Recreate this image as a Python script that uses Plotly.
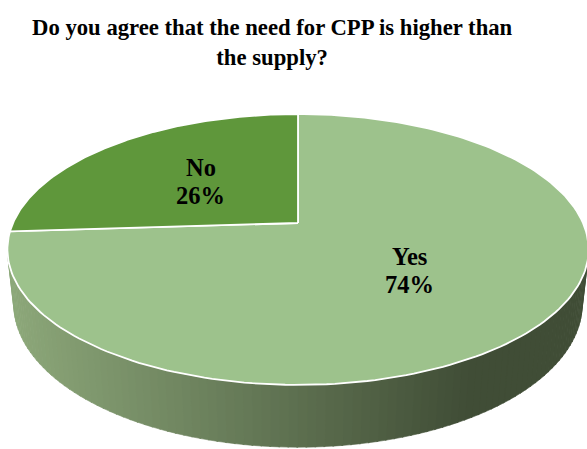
import numpy as np
import plotly.graph_objects as go

# ---- data ----
labels = ["Yes", "No"]
values = [74, 26]
top_colors = ["#9dc28c", "#5f973b"]
side_light = ["#8ca779", "#4f7d32"]
side_dark = ["#404d36", "#2f4a1f"]
title_text = "Do you agree that the need for CPP is higher than<br>the supply?"

# ---- 3D pie projection parameters ----
CX, CY = 298.0, 223.0
S = 285.0
SIN_E = 0.457
COS_E = float(np.sqrt(1 - SIN_E ** 2))
D = 4.55
H = 0.217
FONT = "Liberation Serif"


def project(X, Y, Z):
    X = np.asarray(X, float); Y = np.asarray(Y, float); Z = np.asarray(Z, float)
    v = Y * COS_E + Z * SIN_E
    up = -Y * SIN_E + Z * COS_E
    k = D / (D - v)
    return CX + S * X * k, CY - S * up * k


def hex2rgb(h):
    h = h.lstrip("#")
    return np.array([int(h[i:i + 2], 16) for i in (0, 2, 4)], float)


def mix(a, b, t):
    c = hex2rgb(a) * (1 - t) + hex2rgb(b) * t
    return "rgb(%d,%d,%d)" % tuple(np.round(c))


total = float(sum(values))
fracs = [v / total for v in values]
starts = np.cumsum([0] + fracs[:-1]) * 2 * np.pi
ends = np.cumsum(fracs) * 2 * np.pi

fig = go.Figure()

NSEG = 240
edges = np.linspace(0, 2 * np.pi, NSEG + 1)
for i in range(NSEG):
    p0, p1 = edges[i], edges[i + 1]
    pm = 0.5 * (p0 + p1)
    if np.cos(pm) >= -1.0 / (D * COS_E) + 0.02:
        continue
    si = 0
    for j in range(len(values)):
        if starts[j] <= pm < ends[j]:
            si = j
    ph = np.array([p0, p1 + 0.004, p1 + 0.004, p0])
    zz = np.array([0, 0, -H, -H])
    xs, ys = project(np.sin(ph), -np.cos(ph), zz)
    mx, _ = project(np.sin(pm), -np.cos(pm), 0)
    t = float(np.clip((mx - 12) / (470 - 12), 0, 1))
    col = mix(side_light[si], side_dark[si], t)
    fig.add_trace(go.Scatter(x=list(xs) + [xs[0]], y=list(ys) + [ys[0]], mode="lines",
                             fill="toself", fillcolor=col, line=dict(width=0.6, color=col),
                             hoverinfo="skip", showlegend=False))

for j in range(len(values)):
    ph = np.linspace(starts[j], ends[j], 200)
    X = np.concatenate([[0], np.sin(ph), [0]])
    Y = np.concatenate([[0], -np.cos(ph), [0]])
    xs, ys = project(X, Y, np.zeros_like(X))
    fig.add_trace(go.Scatter(x=xs, y=ys, mode="lines", fill="toself",
                             fillcolor=top_colors[j], line=dict(color="white", width=1.8),
                             name=labels[j], hoverinfo="skip", showlegend=False))

for j in range(len(values)):
    pm = 0.5 * (starts[j] + ends[j])
    lx, ly = project(0.5 * np.sin(pm), -0.5 * np.cos(pm), 0)
    lx, ly = float(lx), float(ly)
    for txt, dy in ((labels[j], -14), ("%d%%" % round(fracs[j] * 100), 14)):
        fig.add_annotation(x=lx, y=ly + dy, xref="x", yref="y", text=txt, showarrow=False,
                           font=dict(family=FONT, size=24.5, color="black", weight="bold"))

fig.add_annotation(x=272, y=13, xref="x", yref="y", yanchor="top", text=title_text,
                   showarrow=False,
                   font=dict(family=FONT, size=22.7, color="black", weight="bold"))

fig.update_layout(width=587, height=449, margin=dict(l=0, r=0, t=0, b=0),
                  paper_bgcolor="white", plot_bgcolor="white", showlegend=False,
                  xaxis=dict(range=[0, 587], visible=False, fixedrange=True),
                  yaxis=dict(range=[449, 0], visible=False, fixedrange=True))

fig.write_html("out.html")
